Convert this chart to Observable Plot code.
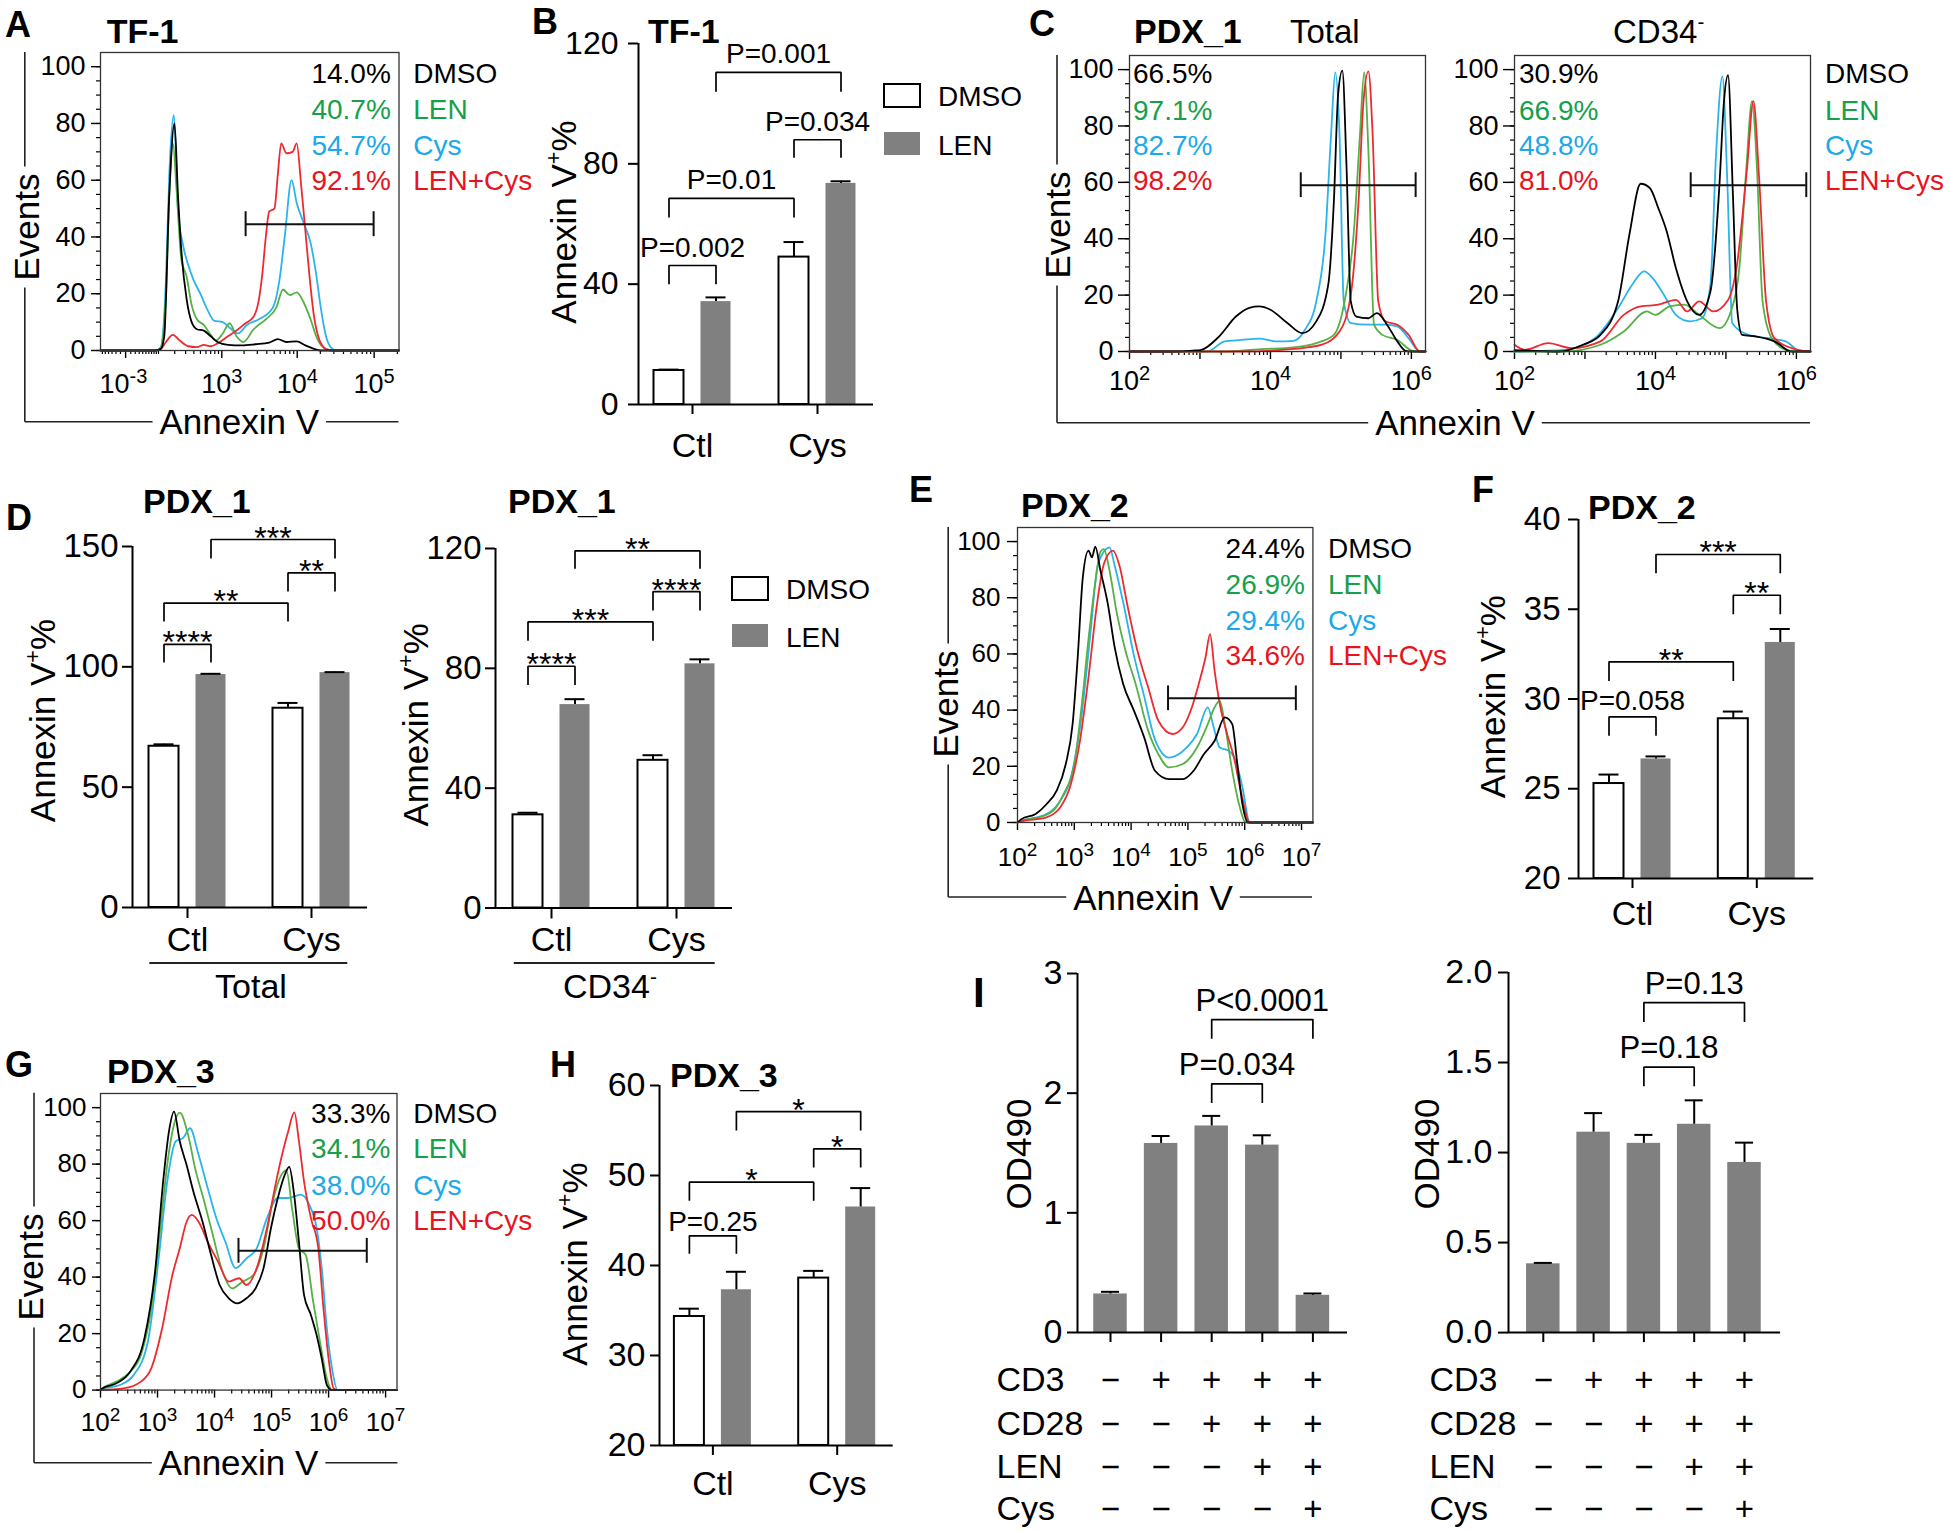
<!DOCTYPE html>
<html><head><meta charset="utf-8">
<script src="https://cdn.jsdelivr.net/npm/d3@7"></script>
<script src="https://cdn.jsdelivr.net/npm/@observablehq/plot@0.6"></script>
<style>
html,body{margin:0;padding:0;background:#fff;}
#fig{position:relative;width:1950px;height:1531px;overflow:hidden;background:#fff;}
</style></head><body><div id="fig"></div>
<script>
// ================= DATA =================
const treatments = ["DMSO", "LEN", "Cys", "LEN+Cys"];

// Panel A (TF-1): [Annexin V intensity, events % of max]
const tf1DMSO = [[-67,0],[87,0],[111,0.5],[130,5],[161,55],[198,80],[226,55],[257,35],[311,18],[371,10],[444,7.5],[559,7],[701,5],[872,3],[1212,2],[1855,1.8],[2831,2.2],[4305,2.8],[5578,4],[7230,3],[9850,3.2],[12790,1.8],[16560,0.6],[20290,0],[210000,0]];
const tf1LEN = [[-67,0],[87,0],[111,1],[140,20],[161,55],[186,73],[217,55],[257,32],[311,26],[371,16],[444,11],[559,9],[701,5.5],[826,3.5],[1030,6],[1277,9.6],[1583,5],[1959,3],[2687,7.5],[3881,11],[5304,15],[6530,21.5],[8030,19.5],[9850,20.5],[12120,17],[14920,11],[18320,4],[23700,0.5],[30670,0],[210000,0]];
const tf1Cys = [[-67,0],[87,0],[111,1],[140,25],[161,62],[193,83],[226,50],[274,37],[330,30],[394,25],[498,20],[626,14.5],[782,10.5],[1030,10],[1277,8],[1669,6],[2176,9],[3148,11],[4769,15],[5874,25],[6870,40],[8450,60],[9850,52],[12120,45],[14920,38],[17420,28],[20290,15],[23700,5],[27680,1],[32280,0],[210000,0]];
const tf1LENCys = [[-67,0],[87,0],[111,0.5],[140,3],[186,5.5],[242,3.5],[330,1.5],[444,1.2],[559,2],[701,1.5],[872,2.5],[1212,5],[1669,7.5],[2065,9.5],[2687,12],[3148,18],[3492,27],[3881,40],[4305,49],[5037,50],[5578,62],[6186,73],[7230,69.5],[8710,70],[9850,73],[11280,58],[12790,42],[14610,25],[16560,12],[19280,4],[23700,0.5],[27680,0],[210000,0]];
const tf1Pct = ["14.0%", "40.7%", "54.7%", "92.1%"];
const tf1Gate = [2097, 98400, 44.5];

// Panel C (PDX_1): [log10 Annexin V, events % of max]
const pdx1TotDMSO = [[2.0,0],[2.6,0],[2.9,0.3],[3.02,0.6],[3.27,5.3],[3.51,12.4],[3.7,15.5],[3.84,16],[4.0,14.8],[4.24,10.1],[4.45,6.5],[4.65,10.7],[4.82,23.7],[4.9,53.3],[4.96,91.1],[5.02,99.6],[5.08,65],[5.14,17.8],[5.22,12.4],[5.39,11.8],[5.51,13.6],[5.67,8.9],[5.8,3.6],[5.92,0.2],[6.0,0],[6.2,0]];
const pdx1TotLEN = [[2.0,0],[3.3,0],[3.92,0.9],[4.33,1.5],[4.65,3],[4.9,5.9],[5.06,18.9],[5.18,41.4],[5.27,76.9],[5.33,99],[5.39,71],[5.47,9.5],[5.59,5.9],[5.8,4.1],[6.04,0],[6.2,0]];
const pdx1TotCys = [[2.0,0],[3.1,0],[3.35,3.6],[3.59,4.1],[3.84,4.6],[4.08,3.6],[4.33,3.8],[4.49,7.7],[4.65,17.8],[4.78,41.4],[4.86,76.9],[4.92,99],[4.98,76.9],[5.04,17.8],[5.14,10.1],[5.39,9.5],[5.63,9.5],[5.8,8.9],[5.96,4.7],[6.12,0],[6.2,0]];
const pdx1TotLENCys = [[2.0,0],[3.6,0],[4.33,0.9],[4.73,2.4],[4.98,7.1],[5.14,20.1],[5.25,53.3],[5.32,88.8],[5.39,99.4],[5.45,76.9],[5.53,17.8],[5.63,10.7],[5.8,9.5],[5.96,5.9],[6.12,0],[6.2,0]];
const pdx1TotPct = ["66.5%", "97.1%", "82.7%", "98.2%"];
const pdx1TotGate = [4.43, 6.06, 59];

const pdx1CD34DMSO = [[2.0,0.5],[2.64,0],[2.97,2.4],[3.22,5.9],[3.47,17.8],[3.63,41.4],[3.79,59.5],[3.92,58],[4.04,50.9],[4.16,42.6],[4.29,29.6],[4.45,17.8],[4.62,13],[4.78,21.3],[4.91,60],[4.97,88],[5.03,98],[5.1,55],[5.16,15],[5.23,5.9],[5.44,5.3],[5.69,3.6],[5.93,0],[6.2,0]];
const pdx1CD34LEN = [[2.0,0],[2.7,0],[3.22,2.4],[3.55,7.1],[3.88,14.2],[4.0,13],[4.2,16],[4.41,16.6],[4.62,13],[4.91,8.3],[5.07,14.2],[5.19,29.6],[5.29,65.1],[5.37,88.8],[5.44,65.1],[5.52,17.8],[5.65,4.7],[5.85,0.6],[6.0,0],[6.2,0]];
const pdx1CD34Cys = [[2.0,0],[2.72,0.6],[3.14,4.7],[3.47,15.4],[3.67,23.7],[3.84,28.4],[3.96,26],[4.12,20.1],[4.29,13],[4.49,10.7],[4.66,11.8],[4.78,23.7],[4.86,70],[4.95,97.5],[5.02,60],[5.09,10],[5.32,5.9],[5.6,4.7],[5.85,3.6],[6.06,0],[6.2,0]];
const pdx1CD34LENCys = [[2.0,2.4],[2.15,0.6],[2.48,3],[2.81,1.2],[3.22,3.6],[3.55,13],[3.79,16],[4.04,16.6],[4.29,18.3],[4.45,14.2],[4.62,17.8],[4.82,14.2],[5.03,18.3],[5.15,29.6],[5.3,65.1],[5.39,88.8],[5.47,62],[5.57,17.8],[5.69,4.7],[6.02,0.6],[6.2,0]];
const pdx1CD34Pct = ["30.9%", "66.9%", "48.8%", "81.0%"];
const pdx1CD34Gate = [4.5, 6.14, 59];

// Panel E (PDX_2)
const pdx2DMSO = [[2.0,0],[2.07,1.2],[2.32,3],[2.51,6.5],[2.69,11.3],[2.85,20.8],[2.97,35],[3.06,58.8],[3.15,87.3],[3.25,96.8],[3.31,94.4],[3.37,98.2],[3.46,89.7],[3.59,77.8],[3.71,62.4],[3.86,49.3],[4.05,39.8],[4.23,30.3],[4.42,18.4],[4.67,15.4],[4.91,15.4],[5.1,18.4],[5.28,24.3],[5.47,29.1],[5.65,37.4],[5.78,35],[5.87,20.8],[5.96,6.5],[6.06,0],[7.2,0]];
const pdx2LEN = [[2.0,0],[2.07,0.6],[2.38,1.8],[2.63,4.2],[2.81,10.1],[3.0,20.8],[3.12,39.8],[3.25,65.3],[3.37,85.5],[3.46,96.3],[3.52,97.3],[3.62,89.7],[3.74,75.4],[3.9,61.2],[4.08,49.3],[4.3,32.7],[4.48,24.3],[4.67,19.6],[4.91,20.8],[5.16,26.7],[5.35,35],[5.47,41],[5.56,43.3],[5.65,35],[5.78,18.4],[5.9,6.5],[6.02,0],[7.2,0]];
const pdx2Cys = [[2.0,0],[2.07,0.6],[2.51,3],[2.75,7.7],[2.94,16],[3.12,36.8],[3.28,66.5],[3.4,90.3],[3.49,95.4],[3.62,97.9],[3.71,91.5],[3.86,78.4],[4.05,59.4],[4.23,44.9],[4.42,29.5],[4.67,23.1],[4.98,26.7],[5.16,31.5],[5.35,41],[5.44,35],[5.56,26.7],[5.72,25.5],[5.84,22],[5.96,12.5],[6.09,0],[7.2,0]];
const pdx2LENCys = [[2.0,0],[2.07,0.4],[2.51,1.8],[2.75,5.3],[2.94,13.7],[3.09,27.9],[3.25,51.7],[3.4,77.8],[3.52,92],[3.68,96.8],[3.8,91],[3.93,77.8],[4.11,61.2],[4.3,48.1],[4.48,36.2],[4.73,31.5],[4.91,33.9],[5.07,41],[5.19,49.3],[5.31,58.8],[5.39,67],[5.47,54],[5.56,42.2],[5.69,31.5],[5.81,23.2],[5.93,11.3],[6.09,0],[7.2,0]];
const pdx2Pct = ["24.4%", "26.9%", "29.4%", "34.6%"];
const pdx2Gate = [4.65, 6.9, 44.2];

// Panel G (PDX_3)
const pdx3DMSO = [[2.0,0],[2.03,0.6],[2.28,2.4],[2.52,6.5],[2.77,18.3],[2.95,40.7],[3.11,76.1],[3.2,91.5],[3.29,98.6],[3.39,88.1],[3.51,79.7],[3.63,70.2],[3.79,59.6],[3.94,47.8],[4.09,37.2],[4.25,32.5],[4.4,30.7],[4.56,32.5],[4.72,36],[4.86,43.2],[4.99,57.4],[5.11,68],[5.23,76.1],[5.31,79],[5.39,70.2],[5.48,52.5],[5.57,33.6],[5.69,26.6],[5.79,19.5],[5.88,11.2],[5.97,1.8],[6.06,0],[7.2,0]];
const pdx3LEN = [[2.0,0],[2.03,0.6],[2.28,3],[2.52,6.5],[2.71,12.4],[2.89,28.9],[3.05,57.4],[3.17,79.7],[3.29,94.1],[3.39,98.2],[3.54,90],[3.66,78.5],[3.82,66.7],[3.97,54.9],[4.12,43.2],[4.31,36],[4.49,38.4],[4.68,40.7],[4.86,50.2],[5.02,66.7],[5.17,76.1],[5.26,77.9],[5.36,64.3],[5.48,50.2],[5.6,47.8],[5.73,31.3],[5.85,17.1],[5.97,4.1],[6.06,0],[7.2,0]];
const pdx3Cys = [[2.0,0],[2.03,0.4],[2.34,1.8],[2.58,5.3],[2.83,17.1],[3.02,46.6],[3.17,73.8],[3.32,88.1],[3.45,89.3],[3.57,92.7],[3.72,83.3],[3.88,71.5],[4.03,60.9],[4.19,52.5],[4.37,43.2],[4.56,46.6],[4.74,50.2],[4.92,60.9],[5.11,68],[5.29,68],[5.51,69.2],[5.66,65.7],[5.79,57.4],[5.88,43.2],[5.97,21.8],[6.06,7.7],[6.16,0],[7.2,0]];
const pdx3LENCys = [[2.0,0],[2.4,0.6],[2.71,3],[2.89,7.7],[3.08,21.8],[3.26,40.7],[3.39,50.2],[3.51,59.6],[3.6,62],[3.72,59.6],[3.88,52.5],[4.06,45.5],[4.25,38.4],[4.43,39.6],[4.56,37.2],[4.74,43.2],[4.92,57.4],[5.08,73.8],[5.17,82.1],[5.29,91.5],[5.4,98.3],[5.48,88.1],[5.57,73.8],[5.69,60.9],[5.82,50.2],[5.91,29],[6.0,11.2],[6.09,0.6],[6.16,0],[7.2,0]];
const pdx3Pct = ["33.3%", "34.1%", "38.0%", "50.0%"];
const pdx3Gate = [4.42, 6.67, 49.3];

// Bar charts: Annexin V+ %
const barGroups = ["Ctl", "Cys"];
const tf1DMSOMean = [11.3, 49.0], tf1DMSOErr = [0.3, 5.0];
const tf1LENMean = [34.2, 73.5], tf1LENErr = [1.4, 0.7];
const tf1Brackets = [["Ctl","DMSO","Ctl","LEN",46.2,40.0,"P=0.002"],["Ctl","DMSO","Cys","DMSO",68.5,62.2,"P=0.01"],["Cys","DMSO","Cys","LEN",88.0,82.0,"P=0.034"],["Ctl","LEN","Cys","LEN",110.4,104.0,"P=0.001"]];

const pdx1TotDMSOMean = [67.0, 82.8], pdx1TotDMSOErr = [0.8, 2.2];
const pdx1TotLENMean = [96.8, 97.6], pdx1TotLENErr = [0.3, 0.2];
const pdx1TotBrackets = [["Ctl","DMSO","Ctl","LEN",109.3,101.8,"****"],["Ctl","DMSO","Cys","DMSO",126.5,118.8,"**"],["Cys","DMSO","Cys","LEN",139.0,131.3,"**"],["Ctl","LEN","Cys","LEN",152.9,145.0,"***"]];

const pdx1CD34DMSOMean = [31.1, 49.3], pdx1CD34DMSOErr = [0.7, 1.7];
const pdx1CD34LENMean = [67.9, 81.5], pdx1CD34LENErr = [1.8, 1.5];
const pdx1CD34Brackets = [["Ctl","DMSO","Ctl","LEN",80.7,74.4,"****"],["Ctl","DMSO","Cys","DMSO",95.5,89.2,"***"],["Cys","DMSO","Cys","LEN",105.6,99.3,"****"],["Ctl","LEN","Cys","LEN",119.2,113.2,"**"]];

const pdx2DMSOMean = [25.29, 28.9], pdx2DMSOErr = [0.5, 0.4];
const pdx2LENMean = [26.66, 33.15], pdx2LENErr = [0.14, 0.75];
const pdx2Brackets = [["Ctl","DMSO","Ctl","LEN",29.0,27.95,"P=0.058"],["Ctl","DMSO","Cys","DMSO",32.07,31.0,"**"],["Cys","DMSO","Cys","LEN",35.78,34.72,"**"],["Ctl","LEN","Cys","LEN",38.05,37.0,"***"]];

const pdx3DMSOMean = [34.33, 38.6], pdx3DMSOErr = [0.87, 0.8];
const pdx3LENMean = [37.3, 46.5], pdx3LENErr = [2.0, 2.1];
const pdx3Brackets = [["Ctl","DMSO","Ctl","LEN",43.3,41.3,"P=0.25"],["Ctl","DMSO","Cys","DMSO",49.26,47.2,"*"],["Cys","DMSO","Cys","LEN",52.96,50.9,"*"],["Ctl","LEN","Cys","LEN",57.1,55.0,"*"]];

// Panel I: OD490
const iConditions = ["none", "CD3", "CD3+CD28", "CD3+CD28+LEN", "CD3+CD28+LEN+Cys"];
const iRows = ["CD3", "CD28", "LEN", "Cys"];
const iSigns = [["−","+","+","+","+"],["−","−","+","+","+"],["−","−","−","+","+"],["−","−","−","−","+"]];
const iLeftMean = [0.322, 1.58, 1.726, 1.566, 0.311], iLeftErr = [0.018, 0.062, 0.084, 0.082, 0.015];
const iRightMean = [0.382, 1.113, 1.051, 1.157, 0.945], iRightErr = [0.005, 0.106, 0.047, 0.133, 0.11];
const iLeftBrackets = [["CD3+CD28","OD490","CD3+CD28+LEN","OD490",2.078,1.918,"P=0.034"],["CD3+CD28","OD490","CD3+CD28+LEN+Cys","OD490",2.615,2.455,"P<0.0001"]];
const iRightBrackets = [["CD3+CD28","OD490","CD3+CD28+LEN","OD490",1.474,1.368,"P=0.18"],["CD3+CD28","OD490","CD3+CD28+LEN+Cys","OD490",1.833,1.725,"P=0.13"]];

// ================= STYLE / HELPERS =================
const FONT = '"Liberation Sans", Arial, Helvetica, sans-serif';
const LINE = {"DMSO": "#000000", "LEN": "#55b045", "Cys": "#29b4ec", "LEN+Cys": "#ee2a30"};
const TEXT = {"DMSO": "#000000", "LEN": "#16a04a", "Cys": "#1ba9ea", "LEN+Cys": "#e8141d"};
const GRAY = "#808080";
const STYLE = {fontFamily: FONT, fontSize: "28px", color: "#000", background: "transparent", overflow: "visible"};
const fig = document.getElementById("fig");

function place(svg, left, top) {
  svg.style.position = "absolute";
  svg.style.left = left + "px";
  svg.style.top = top + "px";
  svg.style.maxWidth = "none";
  fig.appendChild(svg);
}

function logMinor(k0, k1) {
  const t = [];
  for (let k = k0; k < k1; k++) for (let m = 2; m <= 9; m++) t.push(k + Math.log10(m));
  return t;
}

// power-of-ten tick labels: "10" plus a raised exponent, centred on the tick
function powerLabels(labels, font, y0) {
  const sf = Math.round(font * 0.74);
  const bw = font * 1.112;
  const m = [];
  labels.forEach(([v, e]) => {
    const es = String(e);
    const ew = es.length * sf * 0.556;
    const T = bw + ew;
    m.push(Plot.text([v], {x: d => d, frameAnchor: "bottom", text: () => "10", textAnchor: "start", dx: -T / 2, dy: y0, lineAnchor: "top", fontSize: font}));
    m.push(Plot.text([v], {x: d => d, frameAnchor: "bottom", text: () => es, textAnchor: "start", dx: -T / 2 + bw, dy: y0 - 5, lineAnchor: "top", fontSize: sf}));
  });
  return m;
}

function histPanel(o) {
  const mL = 80, mR = 6, mT = 6, mB = 60;
  const [fx0, fy0, fx1, fy1] = o.frame;
  const width = mL + (fx1 - fx0) + mR, height = mT + (fy1 - fy0) + mB;
  const marks = [
    Plot.axisY({ticks: d3.range(0, 101, 5), tickSize: 4, tickFormat: () => "", label: null, strokeWidth: 1.2}),
    Plot.axisY({ticks: d3.range(0, 101, 20), tickSize: o.yTS, tickPadding: o.yTP, fontSize: o.font, label: null, strokeWidth: 1.4}),
    Plot.axisX({ticks: o.xMinor, tickSize: 4, tickFormat: () => "", label: null, strokeWidth: 1.2}),
    Plot.axisX({ticks: o.xMajor, tickSize: 8, tickFormat: () => "", label: null, strokeWidth: 1.4}),
    ...powerLabels(o.xLabels, o.font, 8 + o.xTP)
  ];
  o.curves.forEach(([name, data]) => marks.push(
    Plot.line(data, {x: d => d[0], y: d => d[1], stroke: LINE[name], strokeWidth: 1.8, curve: "monotone-x"})));
  const [g1, g2, gy] = o.gate;
  marks.push(
    Plot.ruleY([{y: gy, a: g1, b: g2}], {y: "y", x1: "a", x2: "b", stroke: "#111", strokeWidth: 2}),
    Plot.ruleX([g1, g2], {x: d => d, y1: () => gy - 4.4, y2: () => gy + 4.4, stroke: "#111", strokeWidth: 2}),
    Plot.frame({stroke: "#333", strokeWidth: 1.3})
  );
  const svg = Plot.plot({width, height, marginLeft: mL, marginRight: mR, marginTop: mT, marginBottom: mB,
    x: o.x, y: {domain: [0, 105]}, style: STYLE, marks});
  place(svg, fx0 - mL, fy0 - mT);
}

function barPanel(o) {
  const mL = 90, mR = 10, mT = 40, mB = o.mB ?? 70;
  const width = mL + (o.x1 - o.x0) + mR, height = mT + (o.yBot - o.yTop) + mB;
  const xd = [(o.x0 - o.g0) / o.step, (o.x1 - o.g0) / o.step];
  const sNames = o.series.map(s => s.name);
  const pos = (g, s) => o.groups.indexOf(g) + o.offsets[sNames.indexOf(s)] / o.step;
  const hw = o.barW / 2 / o.step, cw = o.capW / 2 / o.step;
  const marks = [];
  o.series.forEach((s) => {
    const rows = o.groups.map((g, gi) => ({p: pos(g, s.name), mean: s.mean[gi], err: s.err[gi]}));
    marks.push(
      Plot.rect(rows, {x1: d => d.p - hw, x2: d => d.p + hw, y1: () => o.yDomain[0], y2: "mean", fill: s.fill, stroke: s.stroke, strokeWidth: 2}),
      Plot.ruleX(rows, {x: "p", y1: "mean", y2: d => d.mean + d.err, stroke: "#000", strokeWidth: 2}),
      Plot.ruleY(rows, {y: d => d.mean + d.err, x1: d => d.p - cw, x2: d => d.p + cw, stroke: "#000", strokeWidth: 2})
    );
  });
  const bpts = [], btxt = [];
  o.brackets.forEach(([ga, sa, gb, sb, top, leg, label], k) => {
    const p1 = pos(ga, sa), p2 = pos(gb, sb);
    bpts.push({k, x: p1, y: leg}, {k, x: p1, y: top}, {k, x: p2, y: top}, {k, x: p2, y: leg});
    btxt.push({x: (p1 + p2) / 2, y: top, label});
  });
  marks.push(
    Plot.line(bpts, {x: "x", y: "y", z: "k", stroke: "#000", strokeWidth: 1.7, strokeLinejoin: "miter", strokeLinecap: "butt"}),
    Plot.text(btxt.filter(d => d.label[0] !== "*"), {x: "x", y: "y", text: "label", lineAnchor: "bottom", dy: o.pDy ?? -8, fontSize: o.pFont ?? 28}),
    Plot.text(btxt.filter(d => d.label[0] === "*"), {x: "x", y: "y", text: "label", lineAnchor: "bottom", dy: 9, fontSize: 32}),
    Plot.ruleY([o.yDomain[0]], {stroke: "#000", strokeWidth: 2}),
    Plot.ruleX([xd[0]], {stroke: "#000", strokeWidth: 2}),
    Plot.axisY({ticks: o.yTicks, tickFormat: o.yFmt ?? (d => String(d)), tickSize: o.yTS, tickPadding: o.yTP, fontSize: o.yFont, label: null, strokeWidth: 2}),
    Plot.axisX({ticks: o.groups.map((g, i) => i), tickFormat: o.xFmt ?? (i => o.groups[i]), tickSize: o.xTS ?? 10, tickPadding: o.xTP ?? 12, fontSize: 34, label: null, strokeWidth: 2}),
    ...(o.extra ?? [])
  );
  const svg = Plot.plot({width, height, marginLeft: mL, marginRight: mR, marginTop: mT, marginBottom: mB,
    x: {domain: xd}, y: {domain: o.yDomain}, style: STYLE, marks});
  place(svg, o.x0 - mL, o.yTop - mT);
}

function twoSeries(dm, de, lm, le) {
  return [{name: "DMSO", mean: dm, err: de, fill: "#ffffff", stroke: "#000"},
          {name: "LEN", mean: lm, err: le, fill: GRAY, stroke: "none"}];
}

function signMarks(dxLabel) {
  const dys = [58.4, 102.4, 145.4, 187.4];
  const m = [];
  iRows.forEach((r, ri) => {
    m.push(Plot.text(iSigns[ri], {x: (d, i) => i, frameAnchor: "bottom", dy: dys[ri], text: d => d, lineAnchor: "bottom", fontSize: 33}));
    m.push(Plot.text([r], {frameAnchor: "bottom-left", dx: dxLabel, dy: dys[ri], text: d => d, textAnchor: "start", lineAnchor: "bottom", fontSize: 34}));
  });
  return m;
}

// ================= HISTOGRAMS =================
histPanel({frame: [99.9, 52, 398.4, 350], x: {type: "symlog", constant: 60, domain: [-67, 210000]},
  xMajor: [0.001, 1e3, 1e4, 1e5], xLabels: [[0.001, "-3"], [1e3, 3], [1e4, 4], [1e5, 5]],
  xMinor: [-60,-50,-40,-30,-20,-10,10,20,30,40,50,60,70,80,90,100,200,300,400,500,600,700,800,900,2000,3000,4000,5000,6000,7000,8000,9000,20000,30000,40000,50000,60000,70000,80000,90000,200000],
  font: 27, yTS: 9, yTP: 6, xTP: 15, gate: tf1Gate,
  curves: [["Cys", tf1Cys], ["LEN", tf1LEN], ["LEN+Cys", tf1LENCys], ["DMSO", tf1DMSO]]});

histPanel({frame: [1129, 55, 1425, 351], x: {domain: [2, 6.2]}, xMajor: [2, 3, 4, 5, 6],
  xLabels: [[2, 2], [4, 4], [6, 6]], xMinor: logMinor(2, 6), font: 27, yTS: 11, yTP: 5, xTP: 11, gate: pdx1TotGate,
  curves: [["Cys", pdx1TotCys], ["LEN", pdx1TotLEN], ["LEN+Cys", pdx1TotLENCys], ["DMSO", pdx1TotDMSO]]});

histPanel({frame: [1514, 55, 1810, 351], x: {domain: [2, 6.2]}, xMajor: [2, 3, 4, 5, 6],
  xLabels: [[2, 2], [4, 4], [6, 6]], xMinor: logMinor(2, 6), font: 27, yTS: 11, yTP: 5, xTP: 11, gate: pdx1CD34Gate,
  curves: [["Cys", pdx1CD34Cys], ["LEN", pdx1CD34LEN], ["LEN+Cys", pdx1CD34LENCys], ["DMSO", pdx1CD34DMSO]]});

histPanel({frame: [1016.6, 527, 1312, 822], x: {domain: [2, 7.2]}, xMajor: [2, 3, 4, 5, 6, 7],
  xLabels: [[2, 2], [3, 3], [4, 4], [5, 5], [6, 6], [7, 7]], xMinor: logMinor(2, 7), font: 26, yTS: 10, yTP: 7, xTP: 17, gate: pdx2Gate,
  curves: [["Cys", pdx2Cys], ["LEN", pdx2LEN], ["LEN+Cys", pdx2LENCys], ["DMSO", pdx2DMSO]]});

histPanel({frame: [100, 1092.7, 396.5, 1389.3], x: {domain: [2, 7.2]}, xMajor: [2, 3, 4, 5, 6, 7],
  xLabels: [[2, 2], [3, 3], [4, 4], [5, 5], [6, 6], [7, 7]], xMinor: logMinor(2, 7), font: 26, yTS: 8, yTP: 6, xTP: 14, gate: pdx3Gate,
  curves: [["Cys", pdx3Cys], ["LEN", pdx3LEN], ["LEN+Cys", pdx3LENCys], ["DMSO", pdx3DMSO]]});

// ================= BAR CHARTS =================
barPanel({x0: 638, x1: 873, g0: 692, step: 125, yDomain: [0, 120], yTop: 43, yBot: 404,
  groups: barGroups, series: twoSeries(tf1DMSOMean, tf1DMSOErr, tf1LENMean, tf1LENErr), offsets: [-23.5, 23.5],
  barW: 30, capW: 20, yTicks: [0, 40, 80, 120], yFont: 32, yTS: 10, yTP: 10, xTS: 10, xTP: 18, pFont: 28, pDy: -9,
  brackets: tf1Brackets});

barPanel({x0: 132, x1: 367, g0: 187, step: 124, yDomain: [0, 150], yTop: 546, yBot: 907,
  groups: barGroups, series: twoSeries(pdx1TotDMSOMean, pdx1TotDMSOErr, pdx1TotLENMean, pdx1TotLENErr), offsets: [-23.5, 23.5],
  barW: 30, capW: 20, yTicks: [0, 50, 100, 150], yFont: 33, yTS: 10, yTP: 4, xTS: 11, xTP: 8,
  brackets: pdx1TotBrackets});

barPanel({x0: 495, x1: 732, g0: 551, step: 125, yDomain: [0, 120], yTop: 547.5, yBot: 907,
  groups: barGroups, series: twoSeries(pdx1CD34DMSOMean, pdx1CD34DMSOErr, pdx1CD34LENMean, pdx1CD34LENErr), offsets: [-23.5, 23.5],
  barW: 30, capW: 20, yTicks: [0, 40, 80, 120], yFont: 33, yTS: 10, yTP: 4, xTS: 11, xTP: 8,
  brackets: pdx1CD34Brackets});

barPanel({x0: 1577.7, x1: 1813, g0: 1631.7, step: 124.3, yDomain: [20, 40], yTop: 519.3, yBot: 878.3,
  groups: barGroups, series: twoSeries(pdx2DMSOMean, pdx2DMSOErr, pdx2LENMean, pdx2LENErr), offsets: [-23.5, 23.5],
  barW: 30, capW: 20, yTicks: [20, 25, 30, 35, 40], yFont: 33, yTS: 10, yTP: 8, xTS: 10, xTP: 12, pFont: 28, pDy: -7,
  brackets: pdx2Brackets});

barPanel({x0: 659.3, x1: 893, g0: 712.7, step: 124.3, yDomain: [20, 60], yTop: 1085, yBot: 1445,
  groups: barGroups, series: twoSeries(pdx3DMSOMean, pdx3DMSOErr, pdx3LENMean, pdx3LENErr), offsets: [-23.5, 23.5],
  barW: 30, capW: 20, yTicks: [20, 30, 40, 50, 60], yFont: 34, yTS: 9, yTP: 5, xTS: 10, xTP: 15, pFont: 28, pDy: -5,
  brackets: pdx3Brackets});

barPanel({x0: 1077, x1: 1347, g0: 1110, step: 50.6, yDomain: [0, 3], yTop: 972.6, yBot: 1331.6, mB: 210,
  groups: iConditions, series: [{name: "OD490", mean: iLeftMean, err: iLeftErr, fill: GRAY, stroke: "none"}], offsets: [0],
  barW: 33.5, capW: 18, yTicks: [0, 1, 2, 3], yFmt: d => String(d), yFont: 34, yTS: 10, yTP: 5, xTS: 10, xFmt: () => "", pFont: 31, pDy: -9,
  brackets: iLeftBrackets, extra: signMarks(-81)});

barPanel({x0: 1508.4, x1: 1780.5, g0: 1543.2, step: 50.3, yDomain: [0, 2], yTop: 971.5, yBot: 1331.6, mB: 210,
  groups: iConditions, series: [{name: "OD490", mean: iRightMean, err: iRightErr, fill: GRAY, stroke: "none"}], offsets: [0],
  barW: 33.5, capW: 18, yTicks: [0, 0.5, 1, 1.5, 2], yFmt: d3.format(".1f"), yFont: 34, yTS: 10, yTP: 6, xTS: 10, xFmt: () => "", pFont: 31, pDy: -9,
  brackets: iRightBrackets, extra: signMarks(-79)});

// ================= ANNOTATION LAYER =================
const ov = d3.select("#fig").append("svg").attr("width", 1950).attr("height", 1531)
  .style("position", "absolute").style("left", "0px").style("top", "0px").attr("font-family", FONT);

function addText(parent, x, y, parts, o = {}) {
  const size = o.size ?? 28;
  const t = parent.append("text").attr("x", x).attr("y", y).attr("font-size", size)
    .attr("font-weight", o.weight ?? "normal").attr("text-anchor", o.anchor ?? "start").attr("fill", o.fill ?? "#000");
  if (typeof parts === "string") parts = [[parts]];
  let shifted = false;
  for (const [s, sup] of parts) {
    const ts = t.append("tspan").text(s);
    if (sup && !shifted) { ts.attr("font-size", size * 0.62).attr("dy", -size * 0.42); shifted = true; }
    else if (sup) { ts.attr("font-size", size * 0.62); }
    else if (shifted) { ts.attr("dy", size * 0.42); shifted = false; }
  }
  return t;
}
function centered(cx, cy, parts, {size = 35, rotate = false, bg = false} = {}) {
  const g = ov.append("g").attr("transform", `translate(${cx},${cy})` + (rotate ? " rotate(-90)" : ""));
  const t = addText(g, 0, size * 0.36, parts, {size, anchor: "middle"});
  if (bg) {
    const w = t.node().getComputedTextLength();
    g.insert("rect", "text").attr("x", -w / 2 - 7).attr("y", -size * 0.55).attr("width", w + 14).attr("height", size * 1.1).attr("fill", "#fff");
  }
}
function hline(x1, x2, y, w = 1.6) { ov.append("line").attr("x1", x1).attr("x2", x2).attr("y1", y).attr("y2", y).attr("stroke", "#222").attr("stroke-width", w); }
function vline(x, y1, y2, w = 1.6) { ov.append("line").attr("x1", x).attr("x2", x).attr("y1", y1).attr("y2", y2).attr("stroke", "#222").attr("stroke-width", w); }

// L-shaped axis frames of the flow histograms
vline(24.8, 52, 421.7); hline(24.8, 398.4, 421.7);
vline(1057, 55, 422.7); hline(1057, 1810, 422.7);
vline(948.2, 527, 897); hline(948.2, 1312, 897);
vline(34, 1092.7, 1462.7); hline(34, 397.4, 1462.7);
centered(26.7, 227, "Events", {rotate: true, bg: true});
centered(239.3, 421.7, "Annexin V", {bg: true});
centered(1057, 225, "Events", {rotate: true, bg: true});
centered(1455, 422.7, "Annexin V", {bg: true});
centered(945, 704, "Events", {rotate: true, bg: true});
centered(1153, 897, "Annexin V", {bg: true});
centered(30.7, 1267, "Events", {rotate: true, bg: true});
centered(238.6, 1462.7, "Annexin V", {bg: true});

// bar chart axis titles
const annexPlus = [["Annexin V"], ["+", true], ["%"]];
centered(563, 222, annexPlus, {rotate: true});
centered(42, 720.5, annexPlus, {rotate: true});
centered(415, 724.8, annexPlus, {rotate: true});
centered(1492, 696.7, annexPlus, {rotate: true});
centered(574, 1264, annexPlus, {rotate: true});
centered(1018, 1154, "OD490", {rotate: true});
centered(1426, 1154, "OD490", {rotate: true});

// panel letters
[["A", 5, 37], ["B", 532, 34], ["C", 1029, 36], ["D", 6, 530], ["E", 909, 502], ["F", 1472, 502], ["G", 5, 1077], ["H", 550, 1077]]
  .forEach(([s, x, y]) => addText(ov, x, y, s, {size: 36, weight: "bold"}));
addText(ov, 973, 1007, "I", {size: 42, weight: "bold"});

// panel titles
[["TF-1", 106.7, 43], ["TF-1", 648, 43], ["PDX_1", 1134, 43], ["PDX_1", 143, 513], ["PDX_1", 508, 513],
 ["PDX_2", 1021, 517], ["PDX_2", 1588, 519], ["PDX_3", 107, 1083], ["PDX_3", 670, 1087]]
  .forEach(([s, x, y]) => addText(ov, x, y, s, {size: 34, weight: "bold"}));
addText(ov, 1290, 43, "Total", {size: 33});
addText(ov, 1613, 43, [["CD34"], ["-", true]], {size: 33});

// percentages and treatment legends of the histograms
function pctBlock(values, x, anchor, ys, namesX) {
  values.forEach((v, i) => addText(ov, x, ys[i], v, {anchor, fill: TEXT[treatments[i]]}));
  if (namesX != null) treatments.forEach((t, i) => addText(ov, namesX, ys[i], t, {fill: TEXT[t]}));
}
pctBlock(tf1Pct, 390.8, "end", [83, 118.5, 155, 190], 413.2);
pctBlock(pdx1TotPct, 1133, "start", [83, 119.5, 155, 190], null);
pctBlock(pdx1CD34Pct, 1519, "start", [83, 119.5, 155, 190], 1825);
pctBlock(pdx2Pct, 1305, "end", [558, 594, 630, 665], 1328);
pctBlock(pdx3Pct, 390.5, "end", [1123, 1158, 1195, 1230], 413.3);

// bar legends
function barLegend(x, yD, yL, tx, bD, bL) {
  ov.append("rect").attr("x", x).attr("y", yD).attr("width", 36).attr("height", 23).attr("fill", "#fff").attr("stroke", "#000").attr("stroke-width", 2);
  ov.append("rect").attr("x", x).attr("y", yL).attr("width", 36).attr("height", 23).attr("fill", GRAY);
  addText(ov, tx, bD, "DMSO", {size: 28});
  addText(ov, tx, bL, "LEN", {size: 28});
}
barLegend(884, 84, 132, 938, 106, 155);
barLegend(732, 577, 624, 786, 599, 647);

// group underlines of panel D
hline(149.3, 347.3, 963, 2); hline(513.8, 714.7, 963, 2);
addText(ov, 251, 998, "Total", {size: 34, anchor: "middle"});
addText(ov, 610, 998, [["CD34"], ["-", true]], {size: 34, anchor: "middle"});
</script></body></html>
